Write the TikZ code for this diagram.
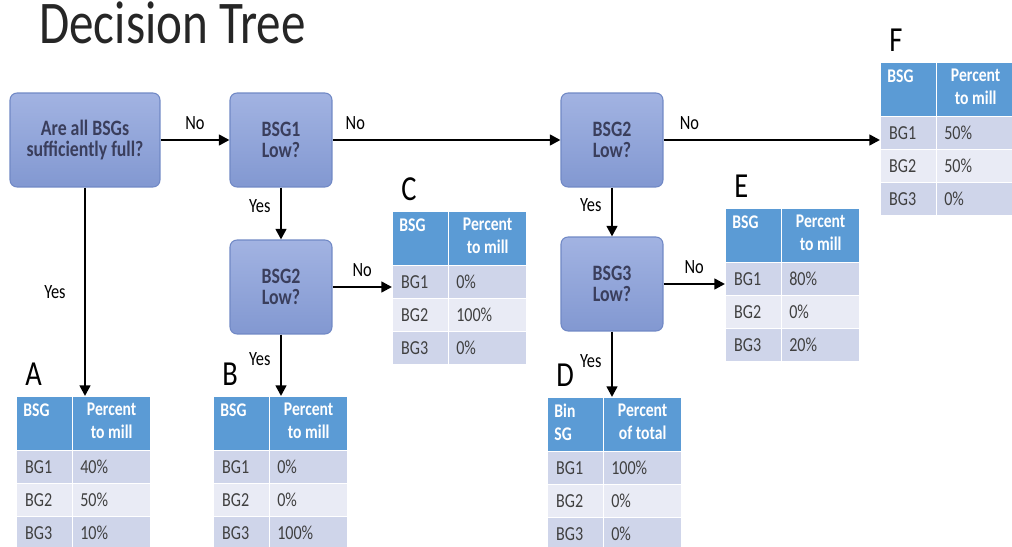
\documentclass[tikz,border=0pt]{standalone}
\usepackage{fontspec}
\setmainfont{Carlito}[FakeStretch=0.81]
\usetikzlibrary{arrows.meta}
\definecolor{boxtop}{HTML}{A2B3E2}
\definecolor{boxbot}{HTML}{8298D1}
\definecolor{boxline}{HTML}{7088C5}
\definecolor{boxtext}{HTML}{3A3E5C}
\definecolor{headfill}{HTML}{5B9BD5}
\definecolor{rowdark}{HTML}{CFD5EA}
\definecolor{rowlight}{HTML}{E9EBF5}
\definecolor{celltext}{HTML}{404040}

\tikzset{
  question/.style={draw=boxline, line width=0.6pt, rounded corners=4pt,
    top color=boxtop, bottom color=boxbot, minimum height=1.88cm,
    minimum width=2.04cm, align=center, text=boxtext,
    font=\fontsize{12.5}{12}\selectfont\bfseries},
  flow/.style={-{Triangle[length=6pt,width=6pt]}, line width=1.4pt},
  choice/.style={font=\fontsize{11.5}{13}\selectfont},
  hcell/.style={fill=headfill, draw=white, line width=0.8pt,
    minimum height=1.08cm, anchor=north west, inner sep=0pt},
  bcell/.style={draw=white, line width=0.8pt, minimum height=0.66cm,
    anchor=north west, inner sep=0pt},
  htext/.style={text=white, font=\fontsize{11}{13}\selectfont\bfseries,
    inner xsep=4pt, inner ysep=4pt},
  btext/.style={text=celltext, font=\fontsize{11.3}{13}\selectfont,
    anchor=west, inner sep=0pt},
  tabletter/.style={font=\fontsize{20}{22}\selectfont, anchor=base west,
    inner sep=0pt}
}

% table: letter, top left corner, left head, right head, values
\newcommand{\restable}[5]{%
  \begin{scope}[shift={#2}]
    \node[hcell, minimum width=1.12cm] (#1-h1) at (0,0) {};
    \node[hcell, minimum width=1.56cm] (#1-h2) at (56,0) {};
    \node[htext, anchor=north west, align=left] at (#1-h1.north west) {#3};
    \node[htext, anchor=north, align=center] at (#1-h2.north) {#4};
    \node[tabletter] (#1-lab) at (9,-10) {#1};
    \foreach \val [count=\i] in {#5} {
      \ifodd\i\def\rowcol{rowdark}\else\def\rowcol{rowlight}\fi
      \node[bcell, fill=\rowcol, minimum width=1.12cm] (#1-r\i a) at (0,{54+33*(\i-1)}) {};
      \node[bcell, fill=\rowcol, minimum width=1.56cm] (#1-r\i b) at (56,{54+33*(\i-1)}) {};
      \node[btext] at ([xshift=5pt]#1-r\i a.west) {BG\i};
      \node[btext] at ([xshift=4.5pt]#1-r\i b.west) {\val};
    }
  \end{scope}}

\begin{document}
\begin{tikzpicture}[x=0.02cm, y=-0.02cm]
\useasboundingbox (0,0) rectangle (1012,547);
\node[anchor=base west, inner sep=0pt, text=black!85, font=\fontsize{34.5}{36}\selectfont] (title) at (39,44) {Decision Tree};

% questions
\node[question, minimum width=3cm] (full) at (85,140) {Are all BSGs\\sufficiently full?};
\node[question] (low1) at (281,140) {BSG1\\Low?};
\node[question] (low2a) at (281,287) {BSG2\\Low?};
\node[question] (low2b) at (612,140) {BSG2\\Low?};
\node[question] (low3) at (612,284) {BSG3\\Low?};

% outcome tables
\restable{A}{(16,396)}{BSG}{Percent\\to mill}{40\%,50\%,10\%}
\restable{B}{(213,396)}{BSG}{Percent\\to mill}{0\%,0\%,100\%}
\restable{C}{(392,211)}{BSG}{Percent\\to mill}{0\%,100\%,0\%}
\restable{D}{(547,397)}{Bin\\SG}{Percent\\of total}{100\%,0\%,0\%}
\restable{E}{(725,208)}{BSG}{Percent\\to mill}{80\%,0\%,20\%}
\restable{F}{(880,62)}{BSG}{Percent\\to mill}{50\%,50\%,0\%}

% branches
\draw[flow] (full) -- node[choice, above, yshift=2pt]{No} (low1);
\draw[flow] (low1) -- node[choice, above, yshift=2pt, pos=0.1]{No} (low2b);
\draw[flow] (low2b.east) -- node[choice, above, yshift=2pt, pos=0.12]{No} (low2b.east -| F-h1.west);
\draw[flow] (full) -- node[choice, left, xshift=-7pt]{Yes} (full.south |- A-h1.north);
\draw[flow] (low1) -- node[choice, left, xshift=-2pt, pos=0.35]{Yes} (low2a);
\draw[flow] (low2a.east) -- node[choice, above, yshift=2pt]{No} (low2a.east -| C-h1.west);
\draw[flow] (low2a) -- node[choice, left, xshift=-2pt, pos=0.4]{Yes} (low2a.south |- B-h1.north);
\draw[flow] (low2b) -- node[choice, left, xshift=-2pt, pos=0.35]{Yes} (low3);
\draw[flow] (low3.east) -- node[choice, above, yshift=2pt]{No} (low3.east -| E-h1.west);
\draw[flow] (low3) -- node[choice, left, xshift=-2pt, pos=0.45]{Yes} (low3.south |- D-h1.north);
\end{tikzpicture}
\end{document}
